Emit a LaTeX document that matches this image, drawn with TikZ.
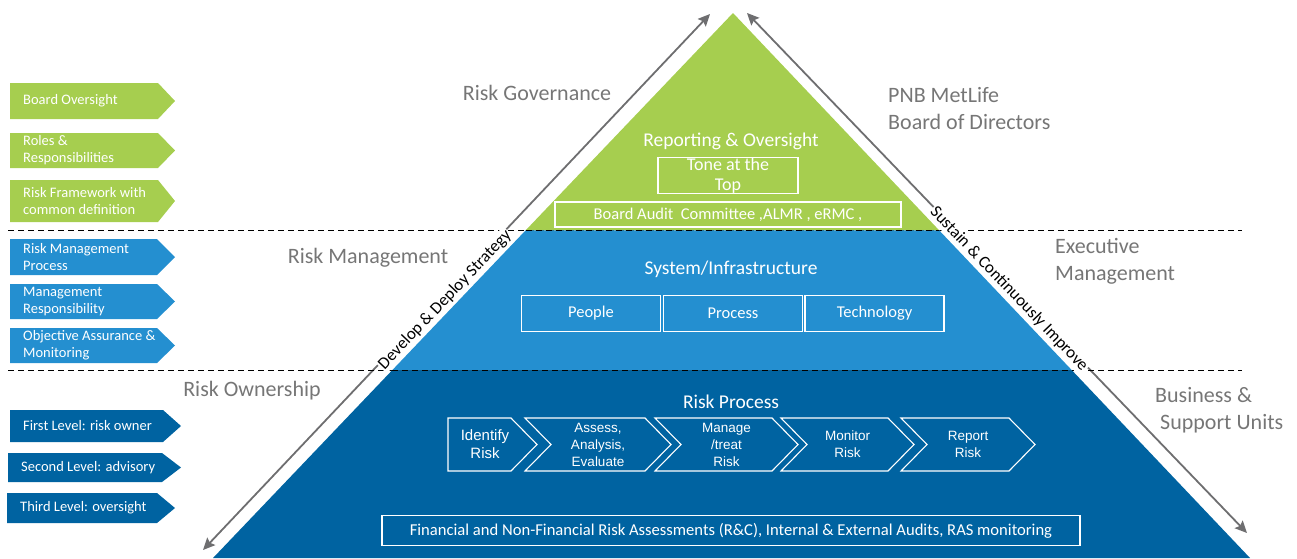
\documentclass[tikz,border=0pt]{standalone}
\usepackage{fontspec}
\setmainfont{Carlito}
\newfontfamily\arialf{Liberation Sans}
\usetikzlibrary{arrows.meta,calc}
\definecolor{pgreen}{RGB}{166,206,79}
\definecolor{pblue}{RGB}{36,143,208}
\definecolor{pdark}{RGB}{0,99,161}
\definecolor{lblgray}{RGB}{118,118,118}
\definecolor{arrgray}{RGB}{110,110,112}
\newcommand\rtag[8]{%
  \fill[#2] (#3,#4) -- (#5,#4) -- (#7,{(#4+#6)/2}) -- (#5,#6) -- (#3,#6) -- cycle;
  \node[tagtext] (#1) at ({#3+13},{(#4+#6)/2}) {#8};
}
\newcommand\chev[6]{% name, L, R, notch?, text, x center
  \ifnum#4=1
    \draw[chevline] (#2,418) -- (#3,418) -- ({#3+26},444.5) -- (#3,471) -- (#2,471) -- ({#2+26},444.5) -- cycle;
  \else
    \draw[chevline] (#2,418) -- (#3,418) -- ({#3+26},444.5) -- (#3,471) -- (#2,471) -- cycle;
  \fi
  \node[chevtext] (#1) at (#6,444.5) {#5};
}
\begin{document}
\begin{tikzpicture}[x=1pt,y=-1pt,
  garrow/.style={draw=arrgray,line width=1.8pt,{Stealth[length=12pt,width=11pt,inset=2pt]}-{Stealth[length=12pt,width=11pt,inset=2pt]}},
  dline/.style={draw=black,line width=1.2pt,dash pattern=on 6pt off 4pt},
  rottext/.style={fill=white,inner sep=1pt,text=black,font=\fontsize{17}{19}\selectfont},
  glabel/.style={text=lblgray,inner sep=0pt,font=\fontsize{22}{27}\selectfont},
  wtitle/.style={text=white,inner sep=0pt,font=\fontsize{19.5}{22}\selectfont},
  wbox/.style={draw=white,line width=1.1pt,text=white,inner sep=0pt,align=center},
  tagtext/.style={anchor=west,align=left,text=white,inner sep=0pt,font=\fontsize{14.5}{17}\selectfont},
  chevline/.style={draw=white,line width=1.1pt},
  chevtext/.style={text=white,align=center,inner sep=0pt,font=\arialf\fontsize{13.5}{17}\selectfont}
]
\useasboundingbox (0,0) rectangle (1297,558);

% pyramid corner points
\coordinate (apex) at (733,13);
\coordinate (bl) at (213,558);
\coordinate (br) at (1250,558);
\coordinate (g1) at ($(apex)!0.399!(bl)$);
\coordinate (g2) at ($(apex)!0.399!(br)$);
\coordinate (b1) at ($(apex)!0.656!(bl)$);
\coordinate (b2) at ($(apex)!0.656!(br)$);

% side arrows
\coordinate (la1) at (203,550); \coordinate (la2) at (710,14);
\coordinate (ra1) at (747,13);  \coordinate (ra2) at (1247,533);
\draw[garrow] (la1) -- (la2);
\draw[garrow] (ra1) -- (ra2);

% dashed separators
\coordinate (d1a) at (8,230.5); \coordinate (d1b) at (1242,230.5);
\coordinate (d2a) at (8,370.5); \coordinate (d2b) at (1242,370.5);
\draw[dline] (d1a) -- (d1b);
\draw[dline] (d2a) -- (d2b);

% rotated texts
\node[rottext,rotate=46.5] (dev) at (445,300) {Develop \& Deploy Strategy};
\node[rottext,rotate=-46.3] (sus) at (1009,289) {Sustain \& Continuously Improve};

% pyramid
\fill[pgreen] (apex) -- (g2) -- (g1) -- cycle;
\fill[pblue] (g1) -- (g2) -- (b2) -- (b1) -- cycle;
\fill[pdark] (b1) -- (b2) -- (br) -- (bl) -- cycle;
\draw[dline] (g1) -- (g2);
\draw[dline] (b1) -- (b2);

% top band
\node[wtitle] (rep) at (731,141) {Reporting \& Oversight};
\node[wbox,minimum width=140pt,minimum height=36pt,font=\fontsize{18}{20}\selectfont] (tone) at (728,175.5) {Tone at the\\Top};
\node[wbox,minimum width=346pt,minimum height=25pt,font=\fontsize{16.5}{18}\selectfont] (bac) at (728,214.5) {Board Audit\ \ Committee ,ALMR , eRMC ,};

% middle band
\node[wtitle] (sys) at (731,269) {System/Infrastructure};
\node[wbox,minimum width=139pt,minimum height=36pt,font=\fontsize{16.5}{18}\selectfont] (people) at (591,313.5) {People};
\node[wbox,minimum width=139pt,minimum height=36pt,font=\fontsize{16.5}{18}\selectfont] (process) at (733,313.5) {Process};
\node[wbox,minimum width=139pt,minimum height=36pt,font=\fontsize{16.5}{18}\selectfont] (tech) at (874.5,313.5) {Technology};

% bottom band
\node[wtitle] (rp) at (731,402) {Risk Process};
\draw[chevline] (448,418) -- (511,418) -- (537,444.5) -- (511,471) -- (448,471) -- cycle;
\node[chevtext,font=\arialf\fontsize{15}{18}\selectfont] (ident) at (485,444.5) {Identify\\Risk};
\chev{assess}{525}{645}{1}{Assess,\\Analysis,\\Evaluate}{598}
\chev{manage}{655}{772}{1}{Manage\\/treat\\Risk}{726.5}
\chev{monitor}{781}{888}{1}{Monitor\\Risk}{847.5}
\chev{report}{901}{1009}{1}{Report\\Risk}{968}
\node[wbox,minimum width=698pt,minimum height=30pt,font=\fontsize{16.6}{18}\selectfont] (fin) at (731,530.5) {Financial and Non-Financial Risk Assessments (R\&C), Internal \& External Audits, RAS monitoring};

% gray labels
\node[glabel] (gov) at (537,93) {Risk Governance};
\node[glabel,anchor=west,align=left] (pnb) at (888,108.5) {PNB MetLife\\Board of Directors};
\node[glabel] (rm) at (368,258) {Risk Management};
\node[glabel,anchor=west,align=left] (exec) at (1055,261.5) {Executive\\Management};
\node[glabel] (ro) at (252,391) {Risk Ownership};
\node[glabel,anchor=west,align=left] (bsu) at (1155,410) {Business \&\\\hspace*{5pt}Support Units};

% left tags
\rtag{t1}{pgreen}{10}{83}{158}{119}{175}{Board Oversight}
\rtag{t2}{pgreen}{10}{133}{158}{168}{175}{Roles \&\\Responsibilities}
\rtag{t3}{pgreen}{10}{180}{158}{222}{175}{Risk Framework with\\common definition}
\rtag{t4}{pblue}{10}{239}{157}{275}{175}{Risk Management\\Process}
\rtag{t5}{pblue}{10}{284}{157}{319}{175}{Management\\Responsibility}
\rtag{t6}{pblue}{10}{328}{157}{363}{175}{Objective Assurance \&\\Monitoring}
\rtag{t7}{pdark}{10}{410}{163}{442}{181}{First Level: risk owner}
\rtag{t8}{pdark}{8}{453}{162}{482}{181}{Second Level: advisory}
\rtag{t9}{pdark}{7}{493}{157}{523}{175}{Third Level: oversight}
\end{tikzpicture}
\end{document}
